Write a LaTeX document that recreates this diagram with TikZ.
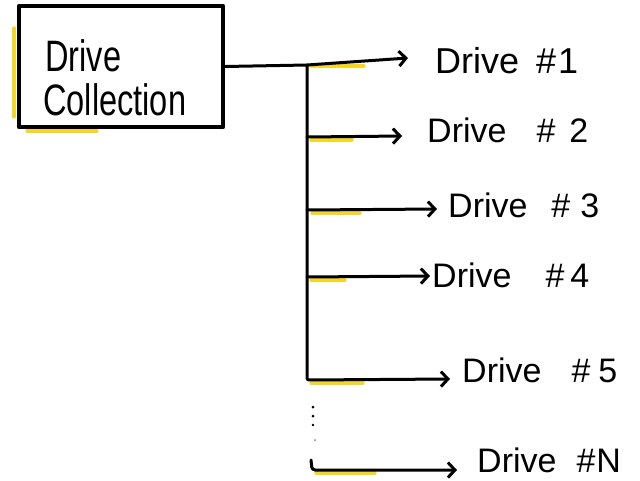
\documentclass[tikz,border=0pt]{standalone}
\usepackage{fontspec}
\setmainfont{Liberation Sans}
\newfontfamily\hand[FakeStretch=0.74]{Liberation Sans}
\usetikzlibrary{arrows.meta}
\definecolor{hl}{RGB}{242,214,40}
\begin{document}
\begin{tikzpicture}[x=1pt,y=-1pt,line cap=round,line join=round,
  conn/.style={line width=3pt},
  arr/.style={conn,-{Straight Barb[length=7pt,width=15pt,line width=3pt]}},
  hlt/.style={hl,line width=3.2pt},
  boxtxt/.style={anchor=base west,inner sep=0pt,font=\hand\fontsize{44}{44}\selectfont},
  lbl/.style={anchor=base west,inner sep=0pt,font=\fontsize{34}{34}\selectfont}]
\useasboundingbox (0,0) rectangle (640,480);
% yellow highlights
\draw[hlt] (14,28) -- (14,117);
\draw[hlt] (27,131) -- (97,131);
\draw[hlt] (311,66) -- (364,66);
\draw[hlt] (311,140) -- (352,140);
\draw[hlt] (312,213) -- (360,213);
\draw[hlt] (311,280) -- (345,280);
\draw[hlt] (311,383) -- (363,383);
\draw[hlt] (316,473) -- (375,473);
% box
\node[draw,line width=4.2pt,minimum width=204pt,minimum height=121pt,inner sep=0pt] (box) at (121,66.5) {};
\node[boxtxt] (bt1) at (45,71) {Drive};
\node[boxtxt] (bt2) at (43,115) {Collection};
% junctions and arrow ends
\coordinate (j1) at (307,65);
\coordinate (j2) at (307,137);
\coordinate (j3) at (307,210);
\coordinate (j4) at (307,277);
\coordinate (j5) at (307,380);
\coordinate (jN) at (311,460);
\coordinate (jNb) at (312,470);
\coordinate (a1) at (408,58);
\coordinate (a2) at (402,136);
\coordinate (a3) at (437,209);
\coordinate (a4) at (430,276);
\coordinate (a5) at (450,379);
\coordinate (aN) at (457,470);
% labels
\node[lbl,font=\fontsize{36}{36}\selectfont] (d1) at (435,73) {Drive\hspace{17pt}\#\hspace{2pt}1};
\node[lbl] (d2) at (427,142) {Drive\hspace{30pt}\#\hspace{14pt}2};
\node[lbl] (d3) at (448,217) {Drive\hspace{24pt}\#\hspace{10pt}3};
\node[lbl] (d4) at (432,287) {Drive\hspace{34pt}\#\hspace{6pt}4};
\node[lbl] (d5) at (462,382) {Drive\hspace{30pt}\#\hspace{8pt}5};
\node[lbl] (dN) at (477,472) {Drive\hspace{20pt}\#\hspace{1pt}N};
% connectors
\draw[conn] (box.east) -- (j1);
\draw[arr] (j1) -- (a1);
\draw[arr,rounded corners=2pt] (j1) -- (j5) -- (a5);
\draw[arr] (j2) -- (a2);
\draw[arr] (j3) -- (a3);
\draw[arr] (j4) -- (a4);
\draw[arr,rounded corners=3pt] (jN) -- (jNb) -- (aN);
% ellipsis dots
\fill (313,407) circle (1.5);
\fill (313,416) circle (1.5);
\fill (313,425) circle (1.3);
\fill[gray] (315,440) circle (1);
\end{tikzpicture}
\end{document}
